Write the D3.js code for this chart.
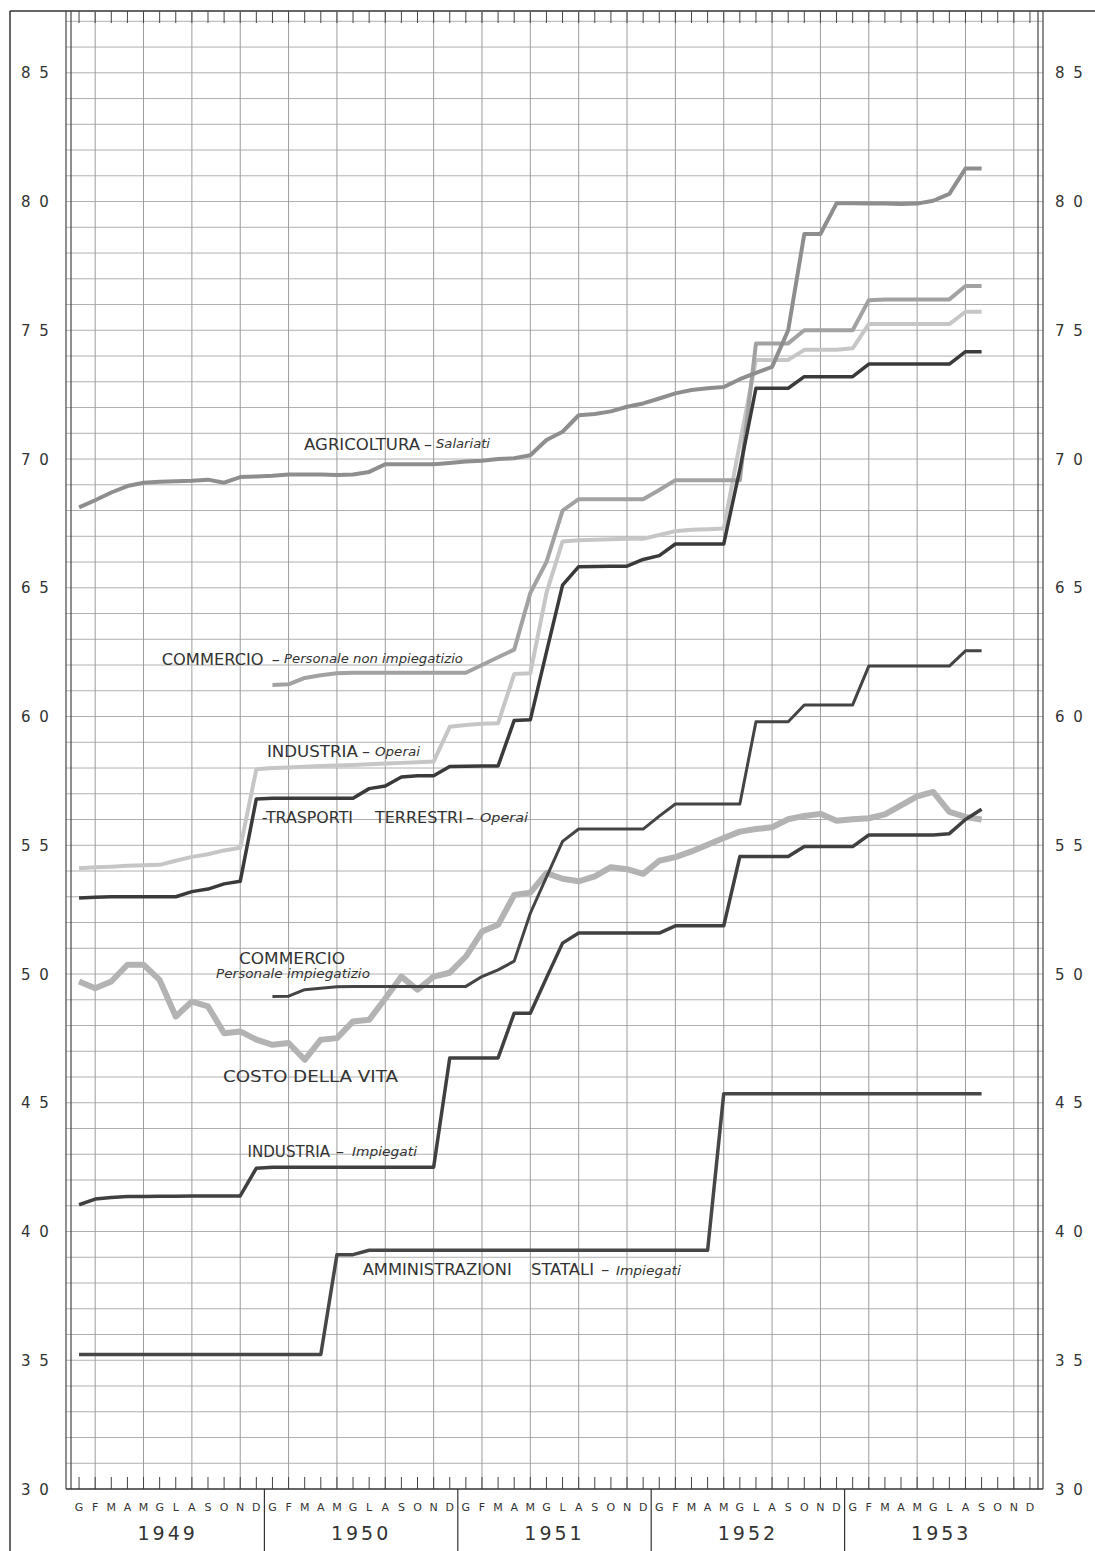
<!DOCTYPE html>
<html lang="it">
<head>
<meta charset="utf-8">
<title>Retribuzioni e costo della vita 1949-1953</title>
<script src="https://d3js.org/d3.v7.min.js"></script>
<style>
  body { margin: 0; background: #fff; }
  svg { display: block; }
  text { font-family: "DejaVu Sans", sans-serif; fill: #333; }
</style>
</head>
<body>
<svg></svg>
<script>
const W = 1095, H = 1551;

// DATA (monthly, Jan 1949 = index 0)
const monthLetters = ["G","F","M","A","M","G","L","A","S","O","N","D"];
const years = [1949, 1950, 1951, 1952, 1953];
const yTicks = [30, 35, 40, 45, 50, 55, 60, 65, 70, 75, 80, 85];

const agricoltura = [68.12, 68.4, 68.7, 68.95, 69.08, 69.12, 69.14, 69.16, 69.2, 69.08, 69.3, 69.32,
  69.35, 69.4, 69.4, 69.4, 69.38, 69.4, 69.5, 69.8, 69.8, 69.8, 69.8, 69.85,
  69.9, 69.93, 70.0, 70.03, 70.15, 70.74, 71.06, 71.7, 71.75, 71.85, 72.03, 72.16,
  72.35, 72.55, 72.68, 72.75, 72.8, 73.1, 73.35, 73.58, 75.0, 78.74, 78.74, 79.93,
  79.93, 79.92, 79.92, 79.9, 79.92, 80.03, 80.3, 81.28, 81.28];

const commercioNonImp = [null, null, null, null, null, null, null, null, null, null, null, null,
  61.22, 61.25, 61.5, 61.6, 61.68, 61.7, 61.7, 61.7, 61.7, 61.7, 61.7, 61.7,
  61.7, 62.0, 62.3, 62.6, 64.8, 66.0, 68.0, 68.44, 68.44, 68.44, 68.44, 68.44,
  68.8, 69.18, 69.18, 69.18, 69.18, 69.18, 74.49, 74.49, 74.49, 75.0, 75.0, 75.0,
  75.0, 76.17, 76.2, 76.2, 76.2, 76.2, 76.2, 76.72, 76.72];

const industriaOperai = [54.11, 54.15, 54.17, 54.2, 54.22, 54.24, 54.4, 54.55, 54.65, 54.8, 54.9, 57.95,
  58.0, 58.02, 58.05, 58.08, 58.1, 58.12, 58.15, 58.18, 58.2, 58.22, 58.25, 59.6,
  59.67, 59.72, 59.74, 61.65, 61.68, 64.8, 66.8, 66.85, 66.87, 66.88, 66.9, 66.9,
  67.05, 67.2, 67.25, 67.27, 67.3, 70.6, 73.85, 73.85, 73.85, 74.24, 74.24, 74.24,
  74.3, 75.24, 75.24, 75.24, 75.24, 75.24, 75.24, 75.72, 75.72];

const trasporti = [52.95, 52.98, 53.0, 53.0, 53.0, 53.0, 53.0, 53.2, 53.3, 53.5, 53.6, 56.8,
  56.83, 56.83, 56.83, 56.83, 56.83, 56.83, 57.2, 57.3, 57.65, 57.7, 57.7, 58.06,
  58.07, 58.08, 58.08, 59.85, 59.87, 62.5, 65.1, 65.82, 65.83, 65.84, 65.84, 66.1,
  66.25, 66.7, 66.7, 66.7, 66.7, 69.6, 72.75, 72.75, 72.75, 73.2, 73.2, 73.2,
  73.2, 73.69, 73.69, 73.69, 73.69, 73.69, 73.69, 74.17, 74.17];

const commercioImp = [null, null, null, null, null, null, null, null, null, null, null, null,
  49.13, 49.14, 49.39, 49.45, 49.51, 49.52, 49.52, 49.52, 49.52, 49.52, 49.52, 49.52,
  49.52, 49.9, 50.16, 50.5, 52.36, 53.76, 55.15, 55.63, 55.63, 55.63, 55.63, 55.63,
  56.13, 56.6, 56.6, 56.6, 56.6, 56.6, 59.8, 59.8, 59.8, 60.45, 60.45, 60.45,
  60.45, 61.96, 61.96, 61.96, 61.96, 61.96, 61.96, 62.55, 62.55];

const costoVita = [49.71, 49.45, 49.71, 50.36, 50.36, 49.77, 48.35, 48.93, 48.74, 47.7, 47.77, 47.45,
  47.25, 47.32, 46.67, 47.45, 47.51, 48.16, 48.22, 49.05, 49.9, 49.39, 49.9, 50.05,
  50.68, 51.65, 51.91, 53.07, 53.16, 53.92, 53.7, 53.6, 53.79, 54.15, 54.07, 53.89,
  54.4, 54.54, 54.76, 55.02, 55.28, 55.53, 55.63, 55.7, 56.01, 56.14, 56.22, 55.95,
  56.01, 56.05, 56.2, 56.55, 56.9, 57.07, 56.3, 56.1, 56.0];

const industriaImp = [41.04, 41.26, 41.32, 41.36, 41.36, 41.37, 41.37, 41.38, 41.38, 41.38, 41.38, 42.46,
  42.5, 42.5, 42.5, 42.5, 42.5, 42.5, 42.5, 42.5, 42.5, 42.5, 42.5, 46.74,
  46.74, 46.74, 46.74, 48.48, 48.48, 49.85, 51.2, 51.59, 51.59, 51.59, 51.59, 51.59,
  51.59, 51.87, 51.87, 51.87, 51.87, 54.56, 54.56, 54.56, 54.56, 54.95, 54.95, 54.95,
  54.95, 55.4, 55.4, 55.4, 55.4, 55.4, 55.45, 56.0, 56.4];

const amministrazioni = [35.22, 35.22, 35.22, 35.22, 35.22, 35.22, 35.22, 35.22, 35.22, 35.22, 35.22, 35.22,
  35.22, 35.22, 35.22, 35.22, 39.1, 39.1, 39.27, 39.27, 39.27, 39.27, 39.27, 39.27,
  39.27, 39.27, 39.27, 39.27, 39.27, 39.27, 39.27, 39.27, 39.27, 39.27, 39.27, 39.27,
  39.27, 39.27, 39.27, 39.27, 45.35, 45.35, 45.35, 45.35, 45.35, 45.35, 45.35, 45.35,
  45.35, 45.35, 45.35, 45.35, 45.35, 45.35, 45.35, 45.35, 45.35];

// drawing order: light lines first, dark lines on top
const series = [
  { values: industriaOperai, color: "#c6c6c6", width: 4 },
  { values: commercioNonImp, color: "#a2a2a2", width: 4 },
  { values: agricoltura, color: "#8e8e8e", width: 4 },
  { values: costoVita, color: "#b3b3b3", width: 6 },
  { values: trasporti, color: "#3a3a3a", width: 3.5 },
  { values: commercioImp, color: "#444", width: 3 },
  { values: industriaImp, color: "#404040", width: 3.5 },
  { values: amministrazioni, color: "#474747", width: 3.5 }
];

// line labels: [text, start month, end month, baseline value, kind]
const labels = [
  ["AGRICOLTURA", 14.46, 21.66, 70.35, "cap"], ["–", 21.9, null, 70.35, "dash"], ["Salariati", 22.65, 26.0, 70.43, "it"],
  ["COMMERCIO", 5.63, 11.95, 62.0, "cap"], ["–", 12.45, null, 62.0, "dash"], ["Personale non impiegatizio", 13.22, 24.32, 62.08, "it"],
  ["INDUSTRIA", 12.16, 17.8, 58.43, "cap"], ["–", 18.05, null, 58.43, "dash"], ["Operai", 18.86, 21.65, 58.47, "it"],
  ["-TRASPORTI", 11.83, 17.5, 55.86, "cap"], ["TERRESTRI", 18.86, 24.32, 55.86, "cap"], ["–", 24.5, null, 55.86, "dash"], ["Operai", 25.38, 28.36, 55.9, "it"],
  ["COMMERCIO", 10.42, 17.0, 50.39, "cap"], ["Personale impiegatizio", 9.0, 18.55, 49.83, "it"],
  ["COSTO DELLA VITA", 9.43, 20.29, 45.82, "cap"],
  ["INDUSTRIA", 10.95, 16.07, 42.89, "cap"], ["–", 16.45, null, 42.89, "dash"], ["Impiegati", 17.43, 21.47, 42.93, "it"],
  ["AMMINISTRAZIONI", 18.1, 27.35, 38.31, "cap"], ["STATALI", 28.54, 32.45, 38.31, "cap"], ["–", 32.9, null, 38.31, "dash"], ["Impiegati", 33.81, 37.84, 38.31, "it"]
];

// SCALES
const x = d3.scaleLinear().domain([0, 60]).range([71, 1038]);
const y = d3.scaleLinear().domain([30, 87.4]).range([1489, 11]);
const plotL = 66, plotR = 1043, plotT = 11, plotB = 1489;

const svg = d3.select("svg").attr("width", W).attr("height", H);

// outer frame
svg.append("line").attr("x1", 10).attr("x2", 10).attr("y1", plotT).attr("y2", H)
  .attr("stroke", "#333").attr("stroke-width", 1.5);
svg.append("line").attr("x1", 10).attr("x2", W).attr("y1", plotT).attr("y2", plotT)
  .attr("stroke", "#333").attr("stroke-width", 1.5);

// GRID
const grid = svg.append("g");
grid.selectAll("line.h").data(d3.range(31, 88)).join("line")
  .attr("class", "h")
  .attr("x1", plotL).attr("x2", plotR)
  .attr("y1", d => y(d)).attr("y2", d => y(d))
  .attr("stroke", "#b0b0b0").attr("stroke-width", 1);
grid.selectAll("line.v").data(d3.range(1, 60, 3)).join("line")
  .attr("class", "v")
  .attr("x1", d => x(d + 0.5)).attr("x2", d => x(d + 0.5))
  .attr("y1", plotT).attr("y2", plotB)
  .attr("stroke", "#9c9c9c").attr("stroke-width", 1);

// month ticks at top and bottom
const mIdx = d3.range(60);
grid.selectAll("line.tb").data(mIdx).join("line")
  .attr("class", "tb")
  .attr("x1", d => x(d + 0.5)).attr("x2", d => x(d + 0.5))
  .attr("y1", plotB).attr("y2", plotB - 12)
  .attr("stroke", "#444").attr("stroke-width", 1);
grid.selectAll("line.tt").data(mIdx).join("line")
  .attr("class", "tt")
  .attr("x1", d => x(d + 0.5)).attr("x2", d => x(d + 0.5))
  .attr("y1", plotT).attr("y2", plotT + 12)
  .attr("stroke", "#444").attr("stroke-width", 1);

// axes: double vertical lines and bottom line
[plotL, x(0), x(60), plotR].forEach(px => {
  svg.append("line").attr("x1", px).attr("x2", px).attr("y1", plotT).attr("y2", plotB)
    .attr("stroke", "#444").attr("stroke-width", 1.2);
});
svg.append("line").attr("x1", plotL).attr("x2", plotR).attr("y1", plotB).attr("y2", plotB)
  .attr("stroke", "#333").attr("stroke-width", 1.5);

// y labels both sides
const fmt = v => String(v).split("").join(" ");
[36, 1070].forEach(cx => {
  svg.append("g").selectAll("text").data(yTicks).join("text")
    .attr("x", cx).attr("y", d => y(d) + 5.5)
    .attr("text-anchor", "middle")
    .attr("font-size", 15).attr("letter-spacing", 2)
    .text(fmt);
});

// month letters and years
const xa = svg.append("g");
xa.selectAll("text.m").data(mIdx).join("text")
  .attr("class", "m")
  .attr("x", d => x(d + 0.5)).attr("y", plotB + 22)
  .attr("text-anchor", "middle").attr("font-size", 11)
  .text(d => monthLetters[d % 12]);
xa.selectAll("text.y").data(years).join("text")
  .attr("class", "y")
  .attr("x", (d, i) => x(i * 12 + 6)).attr("y", plotB + 51)
  .attr("text-anchor", "middle").attr("font-size", 19).attr("letter-spacing", 3)
  .text(d => d);
xa.selectAll("line.yd").data(d3.range(1, 5)).join("line")
  .attr("class", "yd")
  .attr("x1", d => x(d * 12)).attr("x2", d => x(d * 12))
  .attr("y1", plotB).attr("y2", H)
  .attr("stroke", "#333").attr("stroke-width", 1.2);

// SERIES
const line = d3.line()
  .defined(d => d != null)
  .x((d, i) => x(i + 0.5))
  .y(d => y(d));

svg.append("g").selectAll("path").data(series).join("path")
  .attr("d", s => line(s.values))
  .attr("fill", "none")
  .attr("stroke", s => s.color)
  .attr("stroke-width", s => s.width)
  .attr("stroke-linejoin", "round");

// LABELS
const lg = svg.append("g");
labels.forEach(([t, u0, u1, v, kind]) => {
  const el = lg.append("text")
    .attr("x", x(u0)).attr("y", y(v))
    .text(t);
  if (kind === "cap") {
    el.attr("font-size", 15).attr("textLength", x(u1) - x(u0)).attr("lengthAdjust", "spacingAndGlyphs");
  } else if (kind === "it") {
    el.attr("font-size", 11.5).attr("font-style", "italic")
      .attr("textLength", x(u1) - x(u0)).attr("lengthAdjust", "spacingAndGlyphs");
  } else {
    el.attr("font-size", 16);
  }
});
</script>
</body>
</html>
